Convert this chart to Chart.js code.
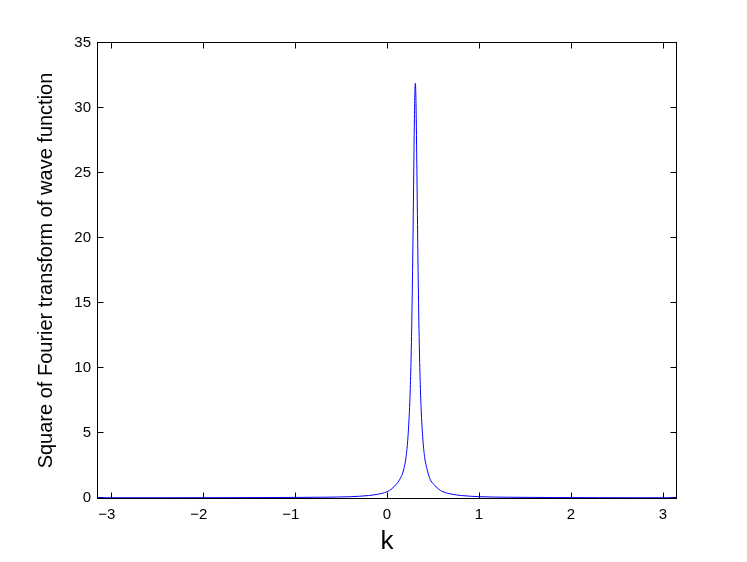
<!DOCTYPE html>
<html>
<head>
<meta charset="utf-8">
<script src="https://cdn.jsdelivr.net/npm/chart.js@4/dist/chart.umd.min.js"></script>
<style>
  body{ margin:0; background:#fff; }
  canvas{ display:block; }
</style>
</head>
<body>
<canvas id="c" width="747" height="562"></canvas>
<script>
/* ------- DATA ------- */
const kValues = [
  -3.1416, -2.5, -2, -1.5, -1, -0.7, -0.4, -0.2, -0.1, 0, 0.05, 0.1, 0.14, 0.18,
  0.208, 0.228, 0.248, 0.258, 0.268, 0.278, 0.288, 0.293, 0.298, 0.303, 0.308,
  0.313, 0.318, 0.323, 0.328, 0.338, 0.348, 0.358, 0.368, 0.388, 0.408, 0.438,
  0.468, 0.508, 0.558, 0.608, 0.708, 0.808, 1.008, 1.308, 1.808, 2.308, 2.808, 3.1416
];
const psiSquared = [
  0.02, 0.02, 0.025, 0.03, 0.045, 0.06, 0.1, 0.19, 0.29, 0.48, 0.7, 1.05, 1.45, 2.15,
  3.2, 4.7, 7.4, 9.7, 12.9, 17.5, 23.3, 26.4, 29.2, 31.2, 31.9,
  31.2, 29.2, 26.4, 23.3, 17.5, 12.9, 9.7, 7.4, 4.7, 3.2, 2.15,
  1.45, 1.05, 0.7, 0.48, 0.29, 0.19, 0.1, 0.06, 0.035, 0.025, 0.02, 0.02
];
const xTicks = [-3, -2, -1, 0, 1, 2, 3];
const yTicks = [0, 5, 10, 15, 20, 25, 30, 35];

const points = kValues.map((k,i)=>({ x:k, y:psiSquared[i] }));
const FONT = "'Liberation Sans', Arial, Helvetica, sans-serif";

/* ------- MATLAB style box (just outside the plot area) + inward ticks ------- */
const boxPlugin = {
  id:"box",
  beforeDatasetsDraw(chart){
    const {ctx, chartArea:a, scales:{x, y}} = chart;
    const L = Math.round(a.left)-0.5, R = Math.round(a.right)+0.5;
    const T = Math.round(a.top)-0.5, B = Math.round(a.bottom)+0.5;
    ctx.save();
    ctx.strokeStyle = "#000";
    ctx.lineWidth = 1;
    ctx.strokeRect(L, T, R-L, B-T);
    ctx.beginPath();
    x.ticks.forEach(t=>{
      const px = Math.round(x.getPixelForValue(t.value))+0.5;
      ctx.moveTo(px, B); ctx.lineTo(px, B-6);
      ctx.moveTo(px, T); ctx.lineTo(px, T+6);
    });
    y.ticks.forEach(t=>{
      const py = Math.round(y.getPixelForValue(t.value))-0.5;
      ctx.moveTo(L, py); ctx.lineTo(L+6, py);
      ctx.moveTo(R, py); ctx.lineTo(R-6, py);
    });
    ctx.stroke();
    ctx.restore();
  }
};

new Chart(document.getElementById("c"), {
  type:"scatter",
  data:{
    datasets:[{
      data:points,
      showLine:true,
      borderColor:"#0000ff",
      borderWidth:1,
      pointRadius:0,
      cubicInterpolationMode:"monotone"
    }]
  },
  options:{
    responsive:false,
    animation:false,
    layout:{ padding:{ top:43, right:71, left:0, bottom:0 } },
    plugins:{ legend:{ display:false }, tooltip:{ enabled:false } },
    scales:{
      x:{
        type:"linear",
        min:-Math.PI, max:Math.PI,
        afterBuildTicks(s){ s.ticks = xTicks.map(v=>({ value:v })); },
        afterFit(s){ s.height = 64; },
        grid:{ display:false, drawTicks:false },
        border:{ display:false },
        ticks:{
          padding:8, color:"#000", font:{ family:FONT, size:15 },
          // digit sits on the tick, minus hangs to the left
          callback:v=> v < 0 ? "\u2212" + Math.abs(v) + "\u2007" : String(v)
        },
        title:{ display:true, text:"k", color:"#000", padding:{ top:0, bottom:5 },
                font:{ family:FONT, size:26 } }
      },
      y:{
        min:0, max:35,
        afterBuildTicks(s){ s.ticks = yTicks.map(v=>({ value:v })); },
        afterFit(s){ s.width = 98; },
        grid:{ display:false, drawTicks:false },
        border:{ display:false },
        ticks:{ padding:7, color:"#000", font:{ family:FONT, size:15 } },
        title:{ display:true, text:"Square of Fourier transform of wave function", color:"#000",
                padding:{ top:34, bottom:0 }, font:{ family:FONT, size:20 } }
      }
    }
  },
  plugins:[boxPlugin]
});
</script>
</body>
</html>
